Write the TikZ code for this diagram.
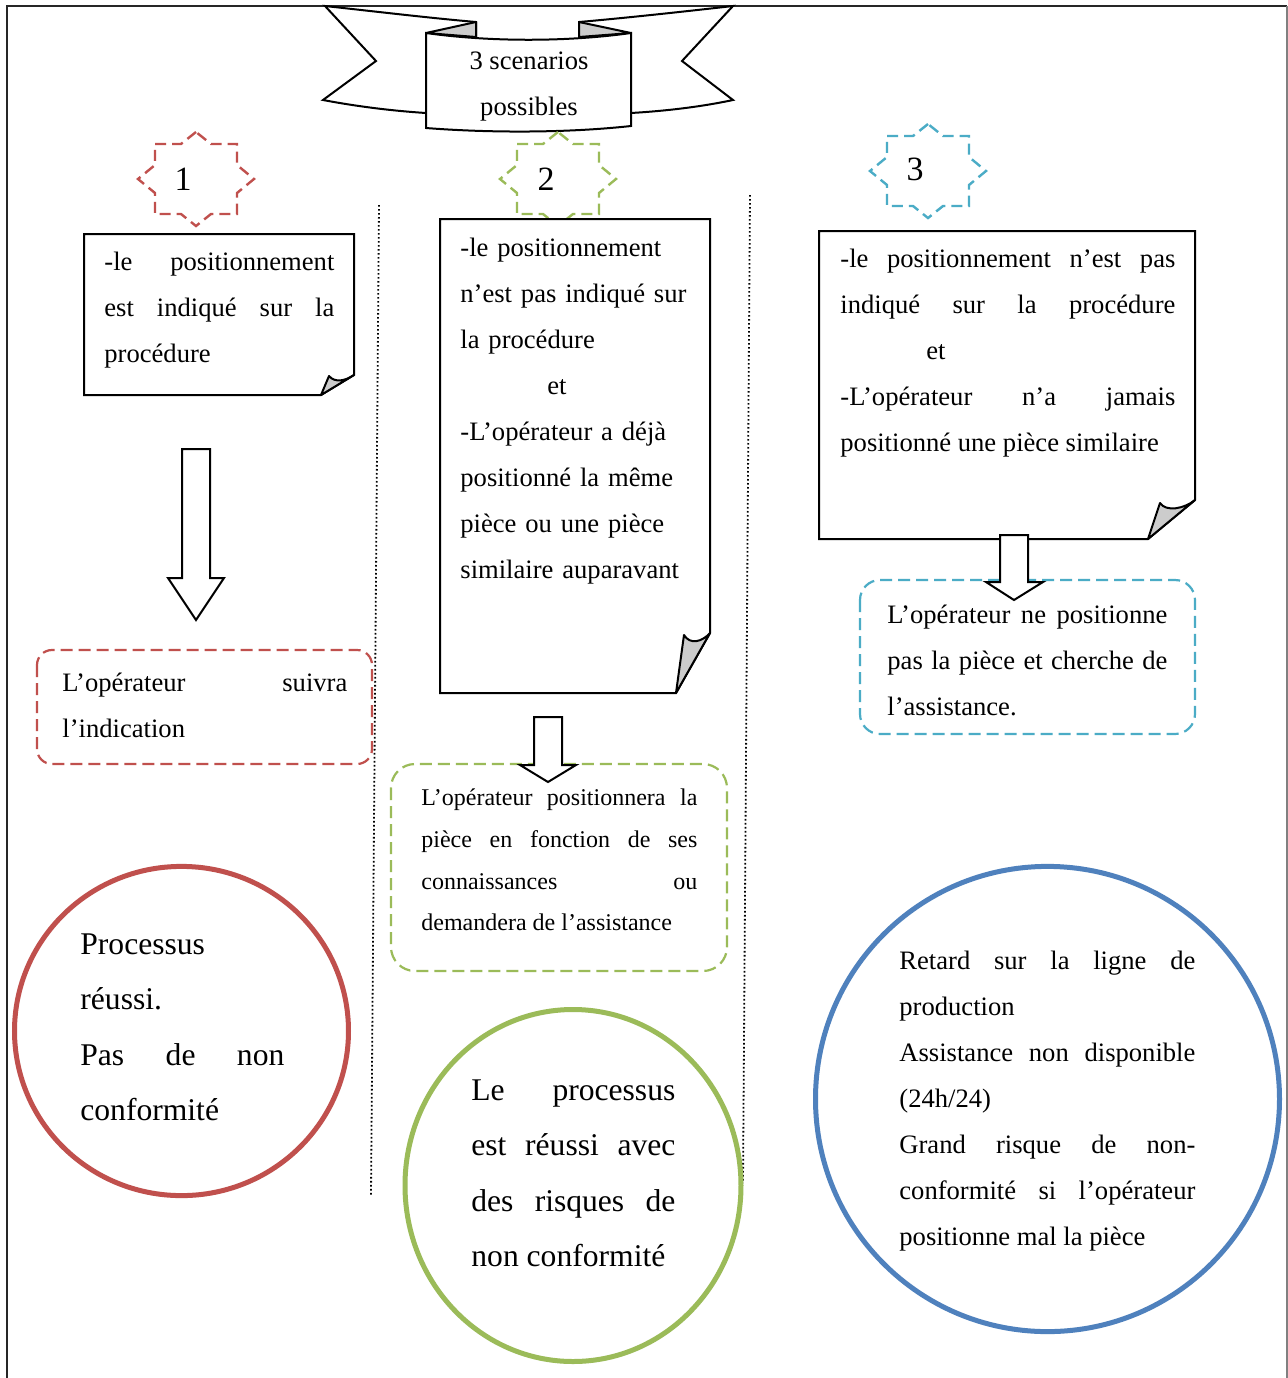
\documentclass[tikz,border=0pt]{standalone}
\usepackage{fontspec}
\setmainfont{Liberation Serif}
\definecolor{cred}{HTML}{C0504D}
\definecolor{cgreen}{HTML}{9BBB59}
\definecolor{cblue}{HTML}{4F81BD}
\definecolor{ccyan}{HTML}{4BACC6}
\newcommand\octostar[2]{%
  \draw[#2, shift={#1}] (0,-47) -- (-15,-35) -- (-41,-35) -- (-41,-14) -- (-58,0) -- (-41,14) -- (-41,35) -- (-15,35) -- (0,47) -- (15,35) -- (41,35) -- (41,14) -- (58,0) -- (41,-14) -- (41,-35) -- (15,-35) -- cycle;}
\begin{document}
\begin{tikzpicture}[x=0.5pt,y=-0.5pt,
  paper/.style={draw=black, line width=1pt, fill=white, line join=miter},
  fold/.style={draw=black, line width=1pt, fill=black!20, line join=round},
  stardash/.style={line width=1.2pt, dash pattern=on 5.5pt off 3pt},
  boxdash/.style={line width=1.1pt, dash pattern=on 6pt off 3pt},
  sepline/.style={line width=0.9pt, dash pattern=on 0.8pt off 1.2pt},
  ring/.style={line width=2.5pt},
  blockarrow/.style={draw=black, line width=1pt, fill=white},
  txt/.style={anchor=north west, inner sep=0pt, align=justify, font=\fontsize{13.3}{23}\selectfont},
  smalltxt/.style={anchor=north west, inner sep=0pt, align=justify, font=\fontsize{12}{20.85}\selectfont},
  bigtxt/.style={anchor=north west, inner sep=0pt, align=justify, font=\fontsize{15.8}{27.75}\selectfont},
  numtxt/.style={inner sep=0pt, font=\fontsize{17}{20}\selectfont}]
\useasboundingbox (0,0) rectangle (1288,1378);
\fill[white] (0,0) rectangle (1288,1378);
% frame
\draw[line width=1.1pt, black!85] (7,1378) -- (7,6) -- (1287,6);
\draw[line width=0.6pt, gray] (1287,6) -- (1287,1378);
% separators
\draw[sepline] (379,205) -- (371,1195);
\draw[sepline] (750,195) -- (743,1183);
% banner
\draw[paper, line join=miter] (476,22) .. controls (430,18) and (380,12) .. (325,6) -- (376,61) -- (323,100) .. controls (360,107) and (395,111) .. (426,113) -- (476,60) -- cycle;
\draw[paper, line join=miter] (579,22) .. controls (625,18) and (680,12) .. (733,6) -- (682,61) -- (733,100) .. controls (700,107) and (665,111) .. (631,113) -- (579,60) -- cycle;
\draw[fold] (426,33) -- (476,22) -- (476,37) -- cycle;
\draw[fold] (631,33) -- (579,22) -- (579,37) -- cycle;
\draw[paper] (426,33) .. controls (490,42) and (567,42) .. (631,33) -- (631,126) .. controls (567,133) and (490,133) .. (426,128) -- cycle;
\node[anchor=north, inner sep=0pt, align=center, font=\fontsize{13.3}{23}\selectfont] (banner) at (529,37) {\strut 3 scenarios\\possibles};
% stars
\octostar{(196,179)}{cred, stardash}
\octostar{(558,179)}{cgreen, stardash}
\octostar{(928,171)}{ccyan, stardash}
\node[numtxt] (n1) at (183,179) {1};
\node[numtxt] (n2) at (546,179) {2};
\node[numtxt] (n3) at (915,169) {3};
% note boxes
\draw[paper] (84,234) -- (354,234) -- (354,375) -- (321,395) -- (84,395) -- cycle;
\draw[fold] (329,376) .. controls (335,383) and (345,381) .. (354,375) -- (321,395) -- cycle;
\draw[paper] (440,219) -- (710,219) -- (710,633) -- (676,693) -- (440,693) -- cycle;
\draw[fold] (684,635) .. controls (690,645) and (702,642) .. (710,633) -- (676,693) -- cycle;
\draw[paper] (819,231) -- (1195,231) -- (1195,500) -- (1148,539) -- (819,539) -- cycle;
\draw[fold] (1160,503) .. controls (1166,512) and (1184,509) .. (1195,500) -- (1148,539) -- cycle;
\node[txt, text width=115pt] (t1) at (104,238) {\strut -le positionnement\linebreak est indiqué sur la\linebreak procédure};
\node[txt, text width=125pt, align=left] (t2) at (460,224) {\strut -le positionnement\\n’est pas indiqué sur\\la procédure\\\hspace*{43.5pt}et\\-L’opérateur a déjà\\positionné la même\\pièce ou une pièce\\similaire auparavant};
\node[txt, text width=167.5pt] (t3) at (840,235) {\strut -le positionnement n’est pas\linebreak indiqué sur la procédure\linebreak\hspace*{43pt}et\\-L’opérateur n’a jamais\linebreak positionné une pièce similaire};
% dashed outcome boxes
\draw[cred, boxdash, rounded corners=7.5pt] (37,650) rectangle (372,764);
\draw[cgreen, boxdash, rounded corners=12pt] (391,764) rectangle (727,971);
\draw[ccyan, boxdash, rounded corners=10pt] (860,580) rectangle (1195,734);
\node[txt, text width=142.5pt] (ta) at (62,659) {\strut L’opérateur suivra\linebreak l’indication};
\node[smalltxt, text width=138pt] (tb) at (421,776) {\strut L’opérateur positionnera la\linebreak pièce en fonction de ses\linebreak connaissances ou\linebreak demandera de l’assistance};
\node[txt, text width=140pt] (tc) at (887,591) {\strut L’opérateur ne positionne\linebreak pas la pièce et cherche de\linebreak l’assistance.};
% block arrows
\draw[blockarrow] (182,449) -- (210,449) -- (210,578) -- (224,578) -- (196,620) -- (168,578) -- (182,578) -- cycle;
\draw[blockarrow] (534,717) -- (562,717) -- (562,765) -- (576,765) -- (548,782) -- (520,765) -- (534,765) -- cycle;
\draw[blockarrow] (1000,535) -- (1028,535) -- (1028,582) -- (1043,582) -- (1014,600) -- (986,582) -- (1000,582) -- cycle;
% result circles
\draw[cred, ring] (181.5,1031) ellipse [x radius=83.5pt, y radius=82.3pt];
\draw[cgreen, ring] (573,1185.5) ellipse [x radius=84pt, y radius=88pt];
\draw[cblue, ring] (1047.5,1099) ellipse [x radius=116pt, y radius=116.3pt];
\node[bigtxt, text width=102pt] (ca) at (80,915) {\strut Processus\\réussi.\\Pas de non\linebreak conformité};
\node[bigtxt, text width=102pt] (cb) at (471,1061) {\strut Le processus\linebreak est réussi avec\linebreak des risques de\linebreak non conformité};
\node[txt, text width=148pt] (cc) at (899,937) {\strut Retard sur la ligne de\linebreak production\\Assistance non disponible\linebreak (24h/24)\\Grand risque de non-\linebreak conformité si l’opérateur\linebreak positionne mal la pièce};
\end{tikzpicture}
\end{document}
